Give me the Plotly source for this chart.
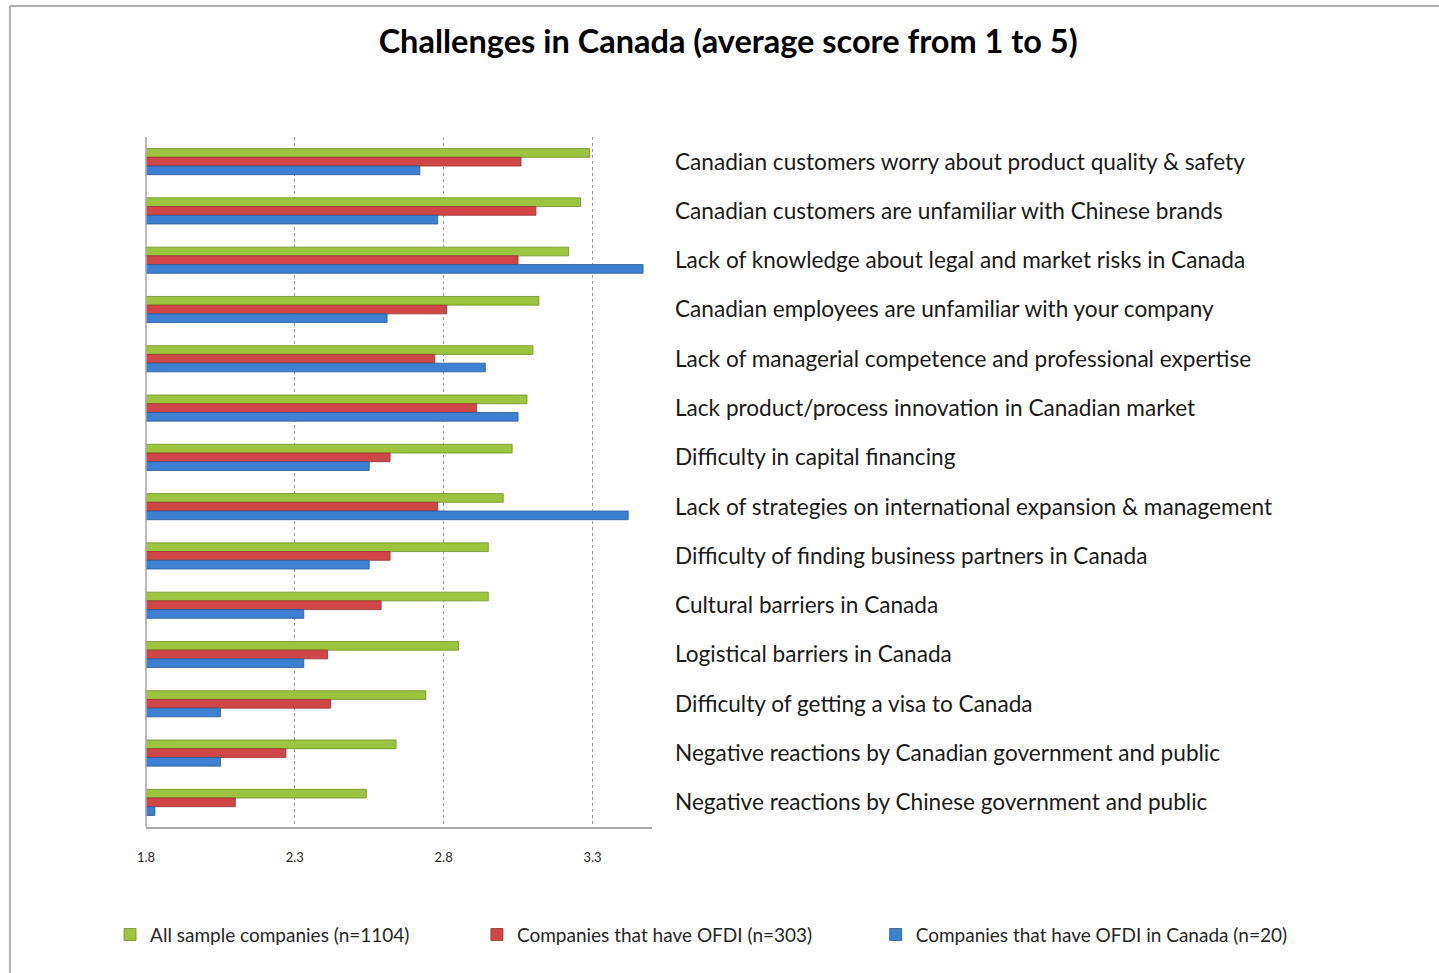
import plotly.graph_objects as go

categories = [
    "Canadian customers worry about product quality & safety",
    "Canadian customers are unfamiliar with Chinese brands",
    "Lack of knowledge about legal and market risks in Canada",
    "Canadian employees are unfamiliar with your company",
    "Lack of managerial competence and professional expertise",
    "Lack product/process innovation in Canadian market",
    "Difficulty in capital financing",
    "Lack of strategies on international expansion & management",
    "Difficulty of finding business partners in Canada",
    "Cultural barriers in Canada",
    "Logistical barriers in Canada",
    "Difficulty of getting a visa to Canada",
    "Negative reactions by Canadian government and public",
    "Negative reactions by Chinese government and public",
]
all_sample = [3.29, 3.26, 3.22, 3.12, 3.10, 3.08, 3.03, 3.00, 2.95, 2.95, 2.85, 2.74, 2.64, 2.54]
have_ofdi = [3.06, 3.11, 3.05, 2.81, 2.77, 2.91, 2.62, 2.78, 2.62, 2.59, 2.41, 2.42, 2.27, 2.10]
ofdi_canada = [2.72, 2.78, 3.47, 2.61, 2.94, 3.05, 2.55, 3.42, 2.55, 2.33, 2.33, 2.05, 2.05, 1.83]

series_names = ["All sample companies (n=1104)", "Companies that have OFDI (n=303)",
                "Companies that have OFDI in Canada (n=20)"]
colors = ["#9cc43e", "#d04646", "#3d7fd0"]
edge = ["#6f8f25", "#9a2f2f", "#2a5a99"]
FONT = "Lato"

fig = go.Figure()
for i, (vals, name) in enumerate(zip([all_sample, have_ofdi, ofdi_canada], series_names)):
    fig.add_trace(go.Bar(
        y=categories, x=vals, name=name, orientation="h",
        marker=dict(color=colors[i], line=dict(color=edge[i], width=0.8)),
        legend=["legend", "legend2", "legend3"][i],
    ))

# plot area spans 506 px starting at x=146 px; legend x positions in plot-fraction units
legend_x = [-0.071, 0.654, 1.442]
leg_common = dict(orientation="h", yanchor="middle", y=-0.156, xanchor="left",
                  font=dict(family=FONT, size=19, color="#262626"),
                  bgcolor="rgba(0,0,0,0)", itemwidth=30)

fig.update_layout(
    width=1439, height=973,
    margin=dict(l=146, r=787, t=137, b=146),
    paper_bgcolor="white", plot_bgcolor="white",
    title=dict(text="<b>Challenges in Canada (average score from 1 to 5)</b>",
               x=0.506, xanchor="center", y=0.957, yanchor="middle",
               font=dict(family=FONT, size=32.5, color="black")),
    barmode="group", bargap=0.47, bargroupgap=0,
    showlegend=True,
    legend=dict(x=legend_x[0], **leg_common),
    legend2=dict(x=legend_x[1], **leg_common),
    legend3=dict(x=legend_x[2], **leg_common),
    xaxis=dict(range=[1.8, 3.5], tick0=1.8, dtick=0.5, showgrid=True,
               gridcolor="#9a9a9a", griddash="dot", gridwidth=1,
               showline=True, linecolor="#a6a6a6", linewidth=1.5,
               zeroline=False, ticks="", ticklabelstandoff=18,
               tickfont=dict(family=FONT, size=13, color="#262626")),
    yaxis=dict(side="right", autorange="reversed", showgrid=False, zeroline=False,
               showline=False, ticks="", ticklabelstandoff=22,
               tickfont=dict(family=FONT, size=22.6, color="#1a1a1a")),
    shapes=[
        dict(type="line", xref="x domain", yref="y domain", x0=0, x1=0, y0=0, y1=1,
             line=dict(color="#a6a6a6", width=1.5)),
        dict(type="line", xref="paper", yref="paper", x0=-0.269, x1=2.6, y0=1.19, y1=1.19,
             line=dict(color="#b0b0b0", width=2)),
        dict(type="line", xref="paper", yref="paper", x0=-0.269, x1=-0.269, y0=-0.3, y1=1.19,
             line=dict(color="#b0b0b0", width=2)),
    ],
)

fig.write_html("out.html", config={"displayModeBar": False},
               post_script="document.body.style.margin='0';")
